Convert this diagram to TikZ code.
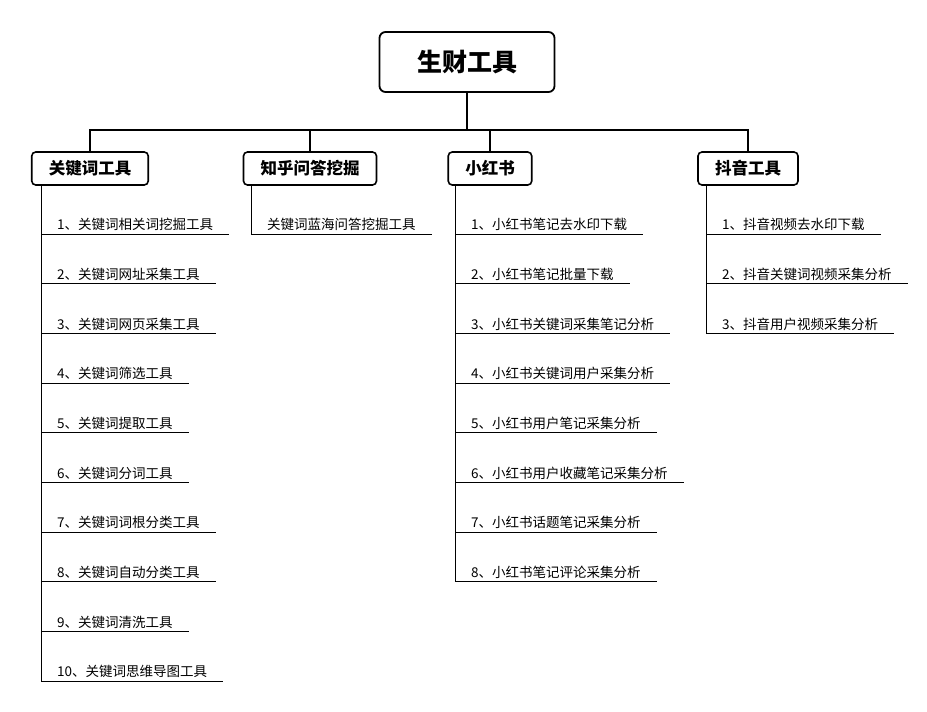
\documentclass[tikz,border=0pt]{standalone}
\usepackage{fontspec}
\setmainfont{Noto Sans CJK SC}
\usetikzlibrary{positioning}

\tikzset{
  raiz/.style={draw,line width=1.8pt,rounded corners=6pt,minimum width=175pt,minimum height=60pt,font=\fontsize{25}{28}\selectfont\bfseries},
  rama/.style={draw,line width=1.6pt,rounded corners=4pt,inner xsep=17pt,minimum height=33pt,font=\fontsize{16.5}{19}\selectfont\bfseries},
  hoja/.style={anchor=south west,inner xsep=16pt,inner ysep=3pt,font=\fontsize{13.5}{16}\selectfont},
  enlace/.style={line width=1.5pt},
  linea/.style={line width=1pt},
}

\begin{document}
\begin{tikzpicture}[x=1pt,y=-1pt]
	\useasboundingbox (0,0) rectangle (927,712);
	\node[raiz] (raiz) at (467,62) {生财工具};
	\node[rama] (kw) at (90,168.5) {关键词工具};
	\node[rama] (zh) at (310,168.5) {知乎问答挖掘};
	\node[rama] (xhs) at (490,168.5) {小红书};
	\node[rama] (dy) at (748,168.5) {抖音工具};
	% barra de arriba
	\coordinate (barra) at (467,130);
	\draw[enlace] (raiz.south) -- (barra);
	\draw[enlace] (kw.north) |- (barra) -| (dy.north);
	\draw[enlace] (zh.north) -- (zh.north |- barra);
	\draw[enlace] (xhs.north) -- (xhs.north |- barra);
	% columna 1
	\foreach \Nc/\Texto in 
	{1/1、关键词相关词挖掘工具,2/2、关键词网址采集工具,3/3、关键词网页采集工具,
	 4/4、关键词筛选工具,5/5、关键词提取工具,6/6、关键词分词工具,
	 7/7、关键词词根分类工具,8/8、关键词自动分类工具,9/9、关键词清洗工具,
	 10/10、关键词思维导图工具}
	{
		\node[hoja] (kw\Nc) at (41,{234+49.7*(\Nc-1)}) {\Texto};
		\draw[linea] (kw\Nc.south west) -- (kw\Nc.south east);
	}
	\draw[linea] (kw1.west |- kw.south) -- (kw10.south west);
	% columna 2
	\node[hoja] (zh1) at (251,234) {关键词蓝海问答挖掘工具};
	\draw[linea] (zh1.south west) -- (zh1.south east);
	\draw[linea] (zh1.west |- zh.south) -- (zh1.south west);
	% columna 3
	\foreach \Nc/\Texto in 
	{1/1、小红书笔记去水印下载,2/2、小红书笔记批量下载,3/3、小红书关键词采集笔记分析,
	 4/4、小红书关键词用户采集分析,5/5、小红书用户笔记采集分析,
	 6/6、小红书用户收藏笔记采集分析,7/7、小红书话题笔记采集分析,
	 8/8、小红书笔记评论采集分析}
	{
		\node[hoja] (xhs\Nc) at (455,{234+49.7*(\Nc-1)}) {\Texto};
		\draw[linea] (xhs\Nc.south west) -- (xhs\Nc.south east);
	}
	\draw[linea] (xhs1.west |- xhs.south) -- (xhs8.south west);
	% columna 4
	\foreach \Nc/\Texto in 
	{1/1、抖音视频去水印下载,2/2、抖音关键词视频采集分析,3/3、抖音用户视频采集分析}
	{
		\node[hoja] (dy\Nc) at (706,{234+49.7*(\Nc-1)}) {\Texto};
		\draw[linea] (dy\Nc.south west) -- (dy\Nc.south east);
	}
	\draw[linea] (dy1.west |- dy.south) -- (dy3.south west);
\end{tikzpicture}
\end{document}
